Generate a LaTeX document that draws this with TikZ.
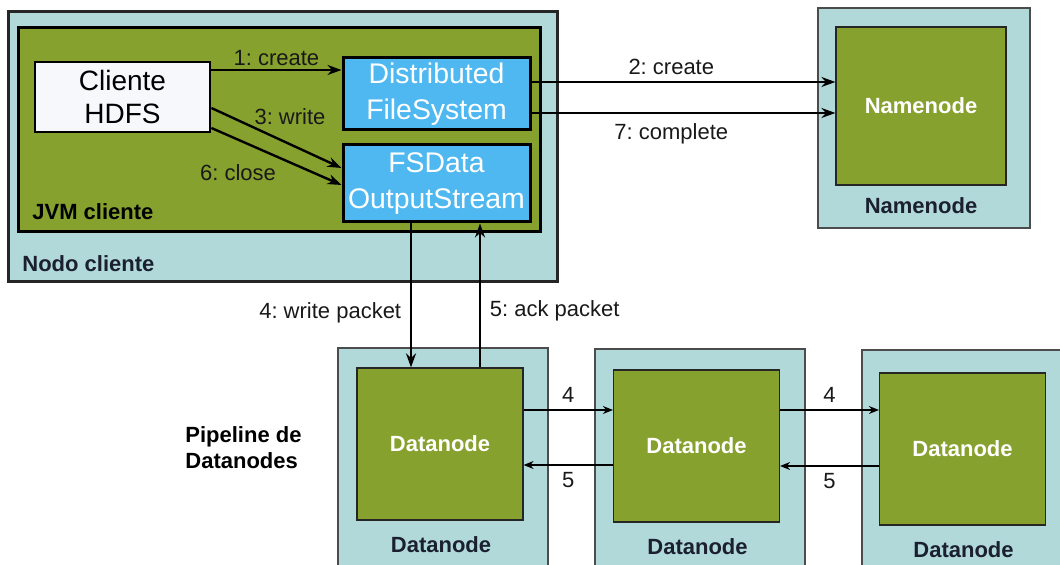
\documentclass[tikz,border=0pt]{standalone}
\usepackage{fontspec}
\setmainfont{Liberation Sans}
\usetikzlibrary{arrows.meta,calc}
\definecolor{hostteal}{HTML}{B1D9DA}
\definecolor{jvmgreen}{HTML}{87A12E}
\definecolor{fsblue}{HTML}{4FB8F0}
\definecolor{clientwhite}{HTML}{F6F8FC}
\definecolor{captionink}{HTML}{1B2030}
\frenchspacing

\begin{document}
\begin{tikzpicture}[x=0.5pt, y=-0.5pt, >={Stealth[length=7pt,width=5pt]},
    host/.style={draw=black!70, line width=0.8pt, fill=hostteal, inner sep=0pt},
    daemon/.style={draw=black!85, line width=0.6pt, fill=jvmgreen, inner sep=0pt,
        text=white, font=\bfseries\fontsize{11}{13}\selectfont},
    fsbox/.style={draw=black, line width=1.5pt, fill=fsblue, text=white, align=center,
        inner sep=0pt, minimum width=93.5pt, font=\fontsize{14.2}{18}\selectfont},
    caption/.style={inner sep=1pt, text=captionink, font=\bfseries\fontsize{11}{13}\selectfont},
    msg/.style={text=black!90, font=\fontsize{11}{13}\selectfont},
    flow/.style={->, line width=1.2pt},
    hop/.style={->, line width=0.7pt, >={Stealth[length=5pt,width=4pt]}}]
    \clip (0,0) rectangle (1060,565);

    % client host and JVM
    \node[host, draw=black!85, line width=1.5pt, minimum width=274.5pt, minimum height=135pt] (nodocli) at (282.5,147) {};
    \node[caption, anchor=west] (nodocliLbl) at (20,264) {Nodo cliente};
    \node[daemon, draw=black, line width=1.5pt, minimum width=261pt, minimum height=102pt] (jvm) at (279,130) {};
    \node[caption, anchor=west, text=black] (jvmLbl) at (30,212) {JVM cliente};

    \node[draw=black, line width=1.4pt, fill=clientwhite, minimum width=87.5pt, minimum height=35pt,
        inner sep=0pt, align=center, font=\fontsize{14}{17}\selectfont] (cliente) at (122.5,97) {Cliente\\HDFS};
    \node[fsbox, minimum height=36pt] (dfs) at (436.5,94) {Distributed\\FileSystem};
    \node[fsbox, minimum height=38.5pt] (fsdos) at (436.5,183.5) {FSData\\OutputStream};

    % namenode
    \node[host, minimum width=106pt, minimum height=110pt] (nnhost) at (924,118) {};
    \node[daemon, minimum width=85pt, minimum height=79pt] (nn) at (921,106) {Namenode};
    \node[caption] (nnLbl) at (921,206) {Namenode};

    % datanodes
    \foreach \i/\hx/\hy/\dx/\dy in {1/443/469/440/444, 2/700/470/696.5/446, 3/967/471/962.5/449} {
        \node[host, minimum width=105pt, minimum height=121pt] (dnhost\i) at (\hx,\hy) {};
        \node[daemon, minimum width=83pt, minimum height=76pt] (dn\i) at (\dx,\dy) {Datanode};
        \node[caption] (dnLbl\i) at (\dx+1,\dy+101) {Datanode};
    }
    \node[caption, text=black, align=left, anchor=west] (pipeline) at (183,448) {Pipeline de\\Datanodes};

    % client calls
    \draw[flow] ($(cliente.east)+(0,-27)$) coordinate (c1) -- (c1 -| dfs.west)
        node[msg, midway, above, yshift=-2pt] {1: create};
    \draw[flow] ($(cliente.east)+(0,11)$) -- ($(fsdos.west)+(0,-15.5)$);
    \draw[flow] ($(cliente.east)+(0,31)$) -- ($(fsdos.west)+(0,1.5)$);
    \node[msg] (writeLbl) at (290,117) {3: write};
    \node[msg] (closeLbl) at (238,173) {6: close};

    % namenode calls
    \draw[flow, line width=1pt] ($(dfs.east)+(0,-12)$) coordinate (n2) -- (n2 -| nn.west)
        node[msg, pos=0.46, above] {2: create};
    \draw[flow, line width=1pt] ($(dfs.east)+(0,19)$) coordinate (n7) -- (n7 -| nn.west)
        node[msg, pos=0.46, below, yshift=-1.5pt] {7: complete};

    % packets
    \draw[flow] ($(fsdos.south)+(-25.5,0)$) coordinate (wp) -- (wp |- dn1.north)
        node[msg, pos=0.62, left=1pt] {4: write packet};
    \draw[flow] ($(dn1.north)+(40,0)$) coordinate (ap) -- (ap |- fsdos.south)
        node[msg, pos=0.39, right=1pt] {5: ack packet};

    \draw[hop] ($(dn1.east)+(0,-34)$) coordinate (d4a) -- (d4a -| dn2.west) node[msg, midway, above] {4};
    \draw[hop] ($(dn2.west)+(0,19)$) coordinate (d5a) -- (d5a -| dn1.east) node[msg, midway, below] {5};
    \draw[hop] ($(dn2.east)+(0,-36)$) coordinate (d4b) -- (d4b -| dn3.west) node[msg, midway, above] {4};
    \draw[hop] ($(dn3.west)+(0,17)$) coordinate (d5b) -- (d5b -| dn2.east) node[msg, midway, below] {5};
\end{tikzpicture}
\end{document}
